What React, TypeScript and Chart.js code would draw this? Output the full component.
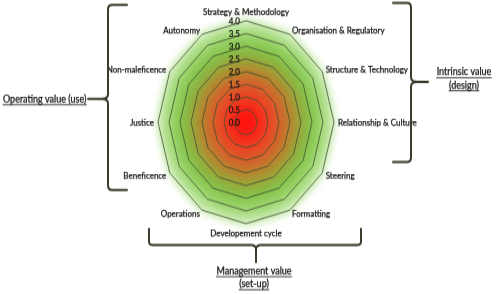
import React, { useEffect, useRef } from "react";
import { Chart, registerables } from "chart.js";

Chart.register(...registerables);

const CANVAS_W = 500;
const CANVAS_H = 255;
const VIEW_H = 294;

const axisLabels = [
  "Strategy & Methodology",
  "Organisation & Regulatory",
  "Structure & Technology",
  "Relationship & Culture",
  "Steering",
  "Formatting",
  "Developement cycle",
  "Operations",
  "Beneficence",
  "Justice",
  "Non-maleficence",
  "Autonomy",
];
const outlineValues = [4, 4, 4, 4, 4, 4, 4, 4, 4, 4, 4, 4];
const tickValues = [0, 0.5, 1, 1.5, 2, 2.5, 3, 3.5, 4];
const operatingText = ["Operating value (use)"];
const intrinsicText = ["Intrinsic value", "(design)"];
const managementText = ["Management value", "(set-up)"];

const fillStops: [number, string][] = [
  [0.0, "#ff0d0d"],
  [0.1, "#fc1a12"],
  [0.22, "#f03c22"],
  [0.35, "#da5c2a"],
  [0.48, "#b8842e"],
  [0.58, "#9aa63a"],
  [0.68, "#84c048"],
  [0.8, "#98d468"],
  [0.9, "#bde59e"],
  [1.0, "#eef9e6"],
];

const FONT = "Lato, 'Open Sans', Arial, sans-serif";
const INK = "#141414";
const BRACE = "#3b3d2c";
const Y = (ty: number) => (ty * CANVAS_H) / VIEW_H;

function label(ctx: CanvasRenderingContext2D, text: string, x: number, y: number) {
  ctx.fillText(text, x, y);
  ctx.lineWidth = 0.25;
  ctx.strokeStyle = INK;
  ctx.strokeText(text, x, y);
}

function underlined(ctx: CanvasRenderingContext2D, text: string, x: number, y: number, align: CanvasTextAlign, size: number) {
  ctx.font = `${size}px ${FONT}`;
  ctx.textAlign = align;
  ctx.textBaseline = "middle";
  ctx.fillStyle = INK;
  label(ctx, text, x, y);
  const w = ctx.measureText(text).width;
  const x0 = align === "center" ? x - w / 2 : align === "right" ? x - w : x;
  ctx.beginPath();
  ctx.strokeStyle = INK;
  ctx.lineWidth = 0.8;
  ctx.moveTo(x0, y + size * 0.55);
  ctx.lineTo(x0 + w, y + size * 0.55);
  ctx.stroke();
}

function vBrace(ctx: CanvasRenderingContext2D, x: number, top: number, bottom: number, mid: number, hookX: number, tipX: number) {
  const d = hookX > x ? 1 : -1;
  const t = tipX < x ? -1 : 1;
  ctx.beginPath();
  ctx.moveTo(hookX, top);
  ctx.lineTo(x + d * 4, top);
  ctx.quadraticCurveTo(x, top, x, top + 4);
  ctx.lineTo(x, mid - 4);
  ctx.quadraticCurveTo(x, mid, x + t * 6, mid);
  ctx.lineTo(tipX, mid);
  ctx.moveTo(x + t * 6, mid);
  ctx.quadraticCurveTo(x, mid, x, mid + 4);
  ctx.lineTo(x, bottom - 4);
  ctx.quadraticCurveTo(x, bottom, x + d * 4, bottom);
  ctx.lineTo(hookX, bottom);
  ctx.stroke();
}

function hBrace(ctx: CanvasRenderingContext2D, y: number, left: number, right: number, top: number, tipX: number, tipY: number) {
  ctx.beginPath();
  ctx.moveTo(left, top);
  ctx.lineTo(left, y - 3);
  ctx.quadraticCurveTo(left, y, left + 4, y);
  ctx.lineTo(tipX - 5, y);
  ctx.quadraticCurveTo(tipX, y, tipX, y + 4);
  ctx.lineTo(tipX, tipY);
  ctx.moveTo(tipX, y + 4);
  ctx.quadraticCurveTo(tipX, y, tipX + 5, y);
  ctx.lineTo(right - 4, y);
  ctx.quadraticCurveTo(right, y, right, y - 3);
  ctx.lineTo(right, top);
  ctx.stroke();
}

const decor = {
  id: "decor",
  beforeDatasetsDraw(chart: any) {
    const ctx: CanvasRenderingContext2D = chart.ctx;
    const s = chart.scales.r;
    const pts = chart.getDatasetMeta(0).data;
    if (!pts.length) return;
    const cx = s.xCenter;
    const cy = s.yCenter;
    const R = s.drawingArea * 1.05;
    const g = ctx.createRadialGradient(cx, cy, 0, cx, cy, R);
    fillStops.forEach(([o, c]) => g.addColorStop(o, c));
    ctx.save();
    ctx.filter = "blur(3px)";
    ctx.beginPath();
    pts.forEach((p: any, i: number) => {
      const x = cx + (p.x - cx) * 1.04;
      const y = cy + (p.y - cy) * 1.04;
      if (i === 0) ctx.moveTo(x, y);
      else ctx.lineTo(x, y);
    });
    ctx.closePath();
    ctx.fillStyle = g;
    ctx.fill();
    ctx.restore();
  },
  afterDraw(chart: any) {
    const ctx: CanvasRenderingContext2D = chart.ctx;
    const s = chart.scales.r;
    ctx.save();
    // tick labels
    ctx.font = `8px ${FONT}`;
    ctx.fillStyle = INK;
    ctx.textAlign = "right";
    ctx.textBaseline = "middle";
    tickValues.forEach((v) => {
      const p = s.getPointPositionForValue(0, v);
      label(ctx, v.toFixed(1), s.xCenter - 6, p.y);
    });
    // point labels
    ctx.font = `8px ${FONT}`;
    axisLabels.forEach((lab, i) => {
      const p = s.getPointPosition(i, s.drawingArea + 4);
      const dx = p.x - s.xCenter;
      const dy = p.y - s.yCenter;
      const vertical = Math.abs(dx) < 2;
      ctx.textAlign = vertical ? "center" : dx > 0 ? "left" : "right";
      ctx.textBaseline = vertical ? (dy < 0 ? "bottom" : "top") : "middle";
      label(ctx, lab, p.x, p.y);
    });
    // braces
    ctx.strokeStyle = BRACE;
    ctx.lineWidth = 2;
    ctx.lineCap = "round";
    vBrace(ctx, 108, Y(5), Y(190), Y(99), 127, 88);
    vBrace(ctx, 411, Y(3), Y(162), Y(82), 393, 428);
    hBrace(ctx, Y(245), 149, 361, Y(229), 256, Y(262));
    // group texts
    underlined(ctx, operatingText[0], 3, Y(99), "left", 9);
    underlined(ctx, intrinsicText[0], 464, Y(72), "center", 9);
    underlined(ctx, intrinsicText[1], 464, Y(85), "center", 9);
    underlined(ctx, managementText[0], 254, Y(271), "center", 9);
    underlined(ctx, managementText[1], 254, Y(284), "center", 9);
    ctx.restore();
  },
};

export default function App() {
  const ref = useRef<HTMLCanvasElement>(null);
  useEffect(() => {
    const canvas = ref.current!;
    const chart = new Chart(canvas, {
      type: "radar",
      data: {
        labels: axisLabels,
        datasets: [
          {
            data: outlineValues,
            borderWidth: 0,
            pointRadius: 0,
            fill: false,
            backgroundColor: "rgba(0,0,0,0)",
            borderColor: "rgba(0,0,0,0)",
          },
        ],
      },
      options: {
        responsive: false,
        animation: false,
        devicePixelRatio: 1,
        events: [],
        layout: { padding: { left: 158, right: 165, top: 18, bottom: 60 } },
        plugins: { legend: { display: false }, tooltip: { enabled: false } },
        scales: {
          r: {
            min: 0,
            max: 4,
            ticks: { display: false, stepSize: 0.5 },
            grid: { color: "#3f5230", lineWidth: 0.8, z: 1 },
            angleLines: { display: false },
            pointLabels: { display: false },
            border: { display: false },
          },
        },
      } as any,
      plugins: [decor as any],
    });
    return () => chart.destroy();
  }, []);
  return (
    <div style={{ position: "absolute", left: 0, top: 0, width: CANVAS_W, height: VIEW_H, background: "#fff" }}>
      <canvas
        ref={ref}
        width={CANVAS_W}
        height={CANVAS_H}
        style={{ width: `${CANVAS_W}px`, height: `${VIEW_H}px`, display: "block" }}
      />
    </div>
  );
}
